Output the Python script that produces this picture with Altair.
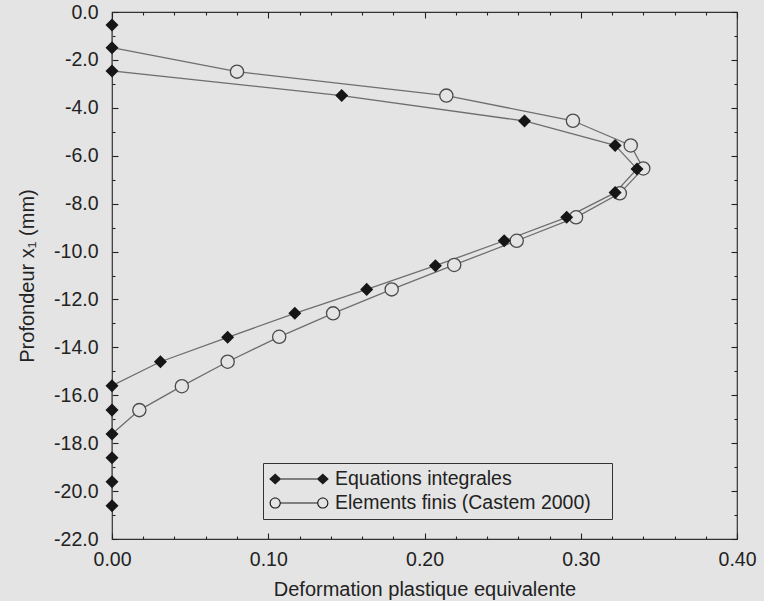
import altair as alt
import numpy as np
import pandas as pd

# Equivalent plastic strain versus depth x1 (mm) below the treated surface
series_names = ["Equations integrales", "Elements finis (Castem 2000)"]

depth_ei = [-0.54, -1.49, -2.46, -3.49, -4.55, -5.57, -6.55, -7.54, -8.57, -9.55,
            -10.59, -11.58, -12.58, -13.58, -14.60, -15.60, -16.62, -17.62, -18.61,
            -19.61, -20.61]
strain_ei = [0.0, 0.0, 0.0, 0.147, 0.264, 0.322, 0.336, 0.322, 0.291, 0.251,
             0.207, 0.163, 0.117, 0.074, 0.031, 0.0, 0.0, 0.0, 0.0,
             0.0, 0.0]

depth_fe = [-1.49, -2.49, -3.49, -4.54, -5.57, -6.53, -7.57, -8.57, -9.55, -10.56,
            -11.58, -12.58, -13.56, -14.60, -15.62, -16.62, -17.62]
strain_fe = [0.0, 0.080, 0.214, 0.295, 0.332, 0.340, 0.325, 0.297, 0.259, 0.219,
             0.179, 0.1415, 0.107, 0.074, 0.0447, 0.0175, 0.0]

x_labels = [0.00, 0.10, 0.20, 0.30, 0.40]
y_labels = [0.0, -2.0, -4.0, -6.0, -8.0, -10.0, -12.0, -14.0, -16.0, -18.0, -20.0, -22.0]
x_ticks = [round(v, 2) for v in np.arange(0.0, 0.401, 0.02)]
y_ticks = [float(v) for v in np.arange(0.0, -22.01, -1.0)]

df_ei = pd.DataFrame({"strain": strain_ei, "depth": depth_ei,
                      "idx": range(len(depth_ei)), "series": series_names[0]})
df_fe = pd.DataFrame({"strain": strain_fe, "depth": depth_fe,
                      "idx": range(len(depth_fe)), "series": series_names[1]})
df_all = pd.concat([df_ei, df_fe], ignore_index=True)

W, H = 625, 527
BG = "#e4e4e4"
INK = "#222222"
LINE = "#6e6e6e"
FONT = "Liberation Sans"

xs = alt.Scale(domain=[0.0, 0.4], nice=False, zero=False)
ys = alt.Scale(domain=[-22.0, 0.0], nice=False, zero=False)

x_main = alt.Axis(values=x_labels, format=".2f", orient="bottom", ticks=False, tickSize=0,
                  domain=False, grid=False, labelFlush=False, labelOverlap=False,
                  labelFont=FONT, labelFontSize=19.5,
                  labelColor=INK, labelPadding=11, title="Deformation plastique equivalente",
                  titleFont=FONT, titleFontSize=20, titleFontWeight="normal",
                  titleColor=INK, titlePadding=11)
y_main = alt.Axis(values=y_labels, orient="left", ticks=False, tickSize=0, domain=False,
                  grid=False, labelFlush=False, labelOverlap=False,
                  labelExpr="(datum.value < 0 ? '-' : '') + format(abs(datum.value), '.1f')",
                  labelFont=FONT, labelFontSize=19.5, labelColor=INK, labelPadding=14,
                  title="Profondeur x\u2081 (mm)", titleFont=FONT, titleFontSize=20,
                  titleFontWeight="normal", titleColor=INK, titlePadding=16)

x_tick_len = {"condition": {"test": "abs(datum.value*10 - round(datum.value*10)) < 0.001", "value": 6}, "value": 3}
y_tick_len = {"condition": {"test": "abs(datum.value/2 - round(datum.value/2)) < 0.001", "value": 6}, "value": 3}


def tick_axis(orient, offset, values, size):
    return alt.Axis(orient=orient, offset=offset, values=values, labels=False, domain=False,
                    grid=False, title=None, ticks=True, tickSize=size, tickColor=INK,
                    tickWidth=1.1)


# inward ticks on the bottom and left edges
ticks_bl = alt.Chart(df_ei).mark_point(opacity=0).encode(
    x=alt.X("strain:Q", scale=xs, axis=tick_axis("top", -H, x_ticks, x_tick_len)),
    y=alt.Y("depth:Q", scale=ys, axis=tick_axis("right", -W, y_ticks, y_tick_len)),
)
# inward ticks on the top and right edges
ticks_tr = alt.Chart(df_ei).mark_point(opacity=0).encode(
    x=alt.X("strain:Q", scale=xs, axis=tick_axis("bottom", -H, x_ticks, x_tick_len)),
    y=alt.Y("depth:Q", scale=ys, axis=tick_axis("left", -W, y_ticks, y_tick_len)),
)

line_fe = alt.Chart(df_fe).mark_line(color=LINE, strokeWidth=1.3).encode(
    x=alt.X("strain:Q", scale=xs, axis=x_main),
    y=alt.Y("depth:Q", scale=ys, axis=y_main),
    order="idx:Q",
)
line_ei = alt.Chart(df_ei).mark_line(color=LINE, strokeWidth=1.3).encode(
    x=alt.X("strain:Q", scale=xs, axis=None),
    y=alt.Y("depth:Q", scale=ys, axis=None),
    order="idx:Q",
)
pts_fe = alt.Chart(df_fe).transform_filter("datum.strain > 0").mark_point(
    shape="circle", size=175, filled=True, fill=BG, stroke="#4a4a4a", strokeWidth=1.3, opacity=1
).encode(
    x=alt.X("strain:Q", scale=xs, axis=None),
    y=alt.Y("depth:Q", scale=ys, axis=None),
)
pts_ei = alt.Chart(df_ei).mark_point(
    shape="diamond", size=170, filled=True, color="#161616", opacity=1
).encode(
    x=alt.X("strain:Q", scale=xs, axis=None),
    y=alt.Y("depth:Q", scale=ys, axis=None),
)

# legend glyphs: marker - line - marker, drawn as filled outlines
glyph_ei = ("M-2.98,0 L-2.38,-0.55 L-1.78,0 L-2.38,0.55 Z "
            "M-1.8,-0.06 L1.8,-0.06 L1.8,0.06 L-1.8,0.06 Z "
            "M1.78,0 L2.38,-0.55 L2.98,0 L2.38,0.55 Z")
glyph_fe = ("M-2.94,0 A0.56,0.56 0 1 1 -1.82,0 A0.56,0.56 0 1 1 -2.94,0 Z "
            "M-2.83,0 A0.45,0.45 0 1 0 -1.93,0 A0.45,0.45 0 1 0 -2.83,0 Z "
            "M-1.84,-0.06 L1.84,-0.06 L1.84,0.06 L-1.84,0.06 Z "
            "M1.82,0 A0.56,0.56 0 1 1 2.94,0 A0.56,0.56 0 1 1 1.82,0 Z "
            "M1.93,0 A0.45,0.45 0 1 0 2.83,0 A0.45,0.45 0 1 0 1.93,0 Z")

legend_layer = alt.Chart(df_all).mark_point(filled=True, opacity=0, color="#1a1a1a").encode(
    x=alt.X("strain:Q", scale=xs, axis=None),
    y=alt.Y("depth:Q", scale=ys, axis=None),
    shape=alt.Shape(
        "series:N",
        scale=alt.Scale(domain=series_names, range=[glyph_ei, glyph_fe]),
        legend=alt.Legend(
            title=None, orient="none", legendX=151, legendY=451, direction="vertical",
            fillColor=BG, strokeColor="#333333", padding=6, rowPadding=4,
            symbolSize=400, symbolOffset=20, symbolOpacity=1, symbolStrokeWidth=0,
            symbolFillColor="#1a1a1a", labelOffset=26, labelLimit=500,
            # blank braille cell keeps some room after the longest label
            labelExpr="datum.label + '\u2800'",
            labelFont=FONT, labelFontSize=19.5, labelColor=INK,
        ),
    ),
)

chart = alt.layer(
    ticks_bl, ticks_tr, line_fe, line_ei, pts_fe, pts_ei, legend_layer
).resolve_axis(
    x="independent", y="independent"
).properties(
    width=W, height=H, autosize="none",
    padding={"left": 112, "top": 12, "right": 27, "bottom": 62},
    background=BG,
).configure_view(stroke="#333333", strokeWidth=1.2)

chart.save("out.html", embed_options={"renderer": "svg", "actions": False})
